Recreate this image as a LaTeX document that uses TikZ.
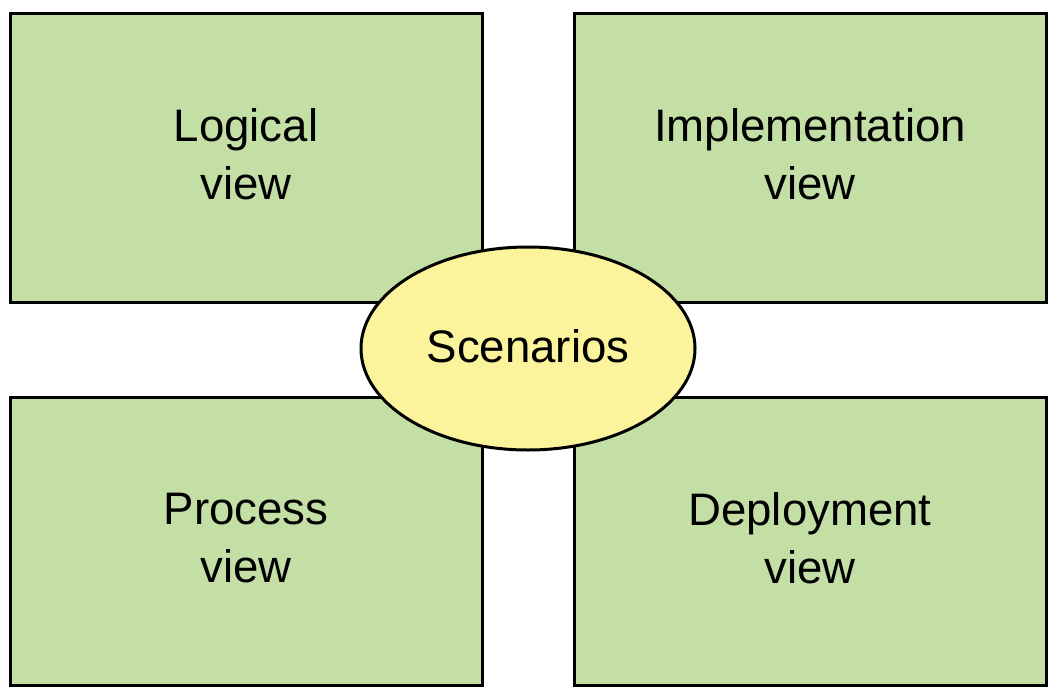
\documentclass[tikz,border=0pt]{standalone}
\usepackage{fontspec}
\setmainfont{Liberation Sans}
\usetikzlibrary{shapes.geometric}
\definecolor{viewgreen}{RGB}{196,223,166}
\definecolor{scenyellow}{RGB}{251,244,156}
\begin{document}
\begin{tikzpicture}[x=1pt,y=-1pt,
  viewbox/.style={draw=black,line width=3pt,fill=viewgreen,minimum width=472pt,minimum height=288pt,inner sep=0pt,align=center,
    text depth=8pt,font=\fontsize{45.6}{58}\selectfont},
  scen/.style={ellipse,draw=black,line width=3pt,fill=scenyellow,minimum width=334pt,minimum height=203pt,inner sep=0pt,
    text depth=5pt,font=\fontsize{45.6}{58}\selectfont}]
\useasboundingbox (0,0) rectangle (1059,698);
\node[viewbox] (logical) at (246,158) {Logical\\view};
\node[viewbox] (impl) at (810,158) {Implementation\\view};
\node[viewbox] (process) at (246,541.5) {Process\\view};
\node[viewbox] (deploy) at (810,541.5) {Deployment\\view};
\node[scen] (scen) at (528,348.5) {Scenarios};
\end{tikzpicture}
\end{document}
